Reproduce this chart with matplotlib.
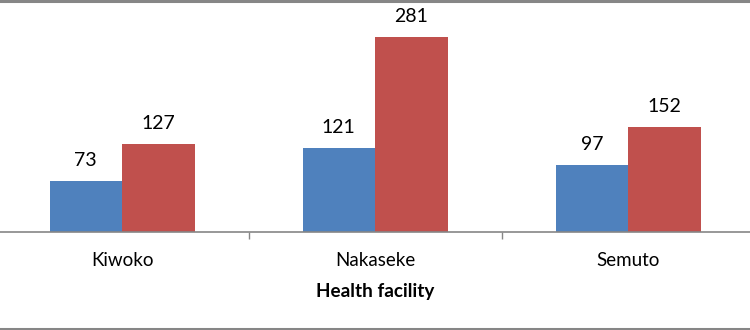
import matplotlib
matplotlib.use("Agg")
import matplotlib.pyplot as plt
from matplotlib.lines import Line2D

categories = ["Kiwoko", "Nakaseke", "Semuto"]
series_a = [73, 121, 97]
series_b = [127, 281, 152]

blue = "#4F81BD"
red = "#C0504D"
grey = "#868686"
font = ["Lato", "DejaVu Sans"]

W, H = 750, 330
fig = plt.figure(figsize=(W / 100, H / 100), dpi=100)
ax_bottom = (H - 232) / H
ax = fig.add_axes([0, ax_bottom, 1, 1 - ax_bottom])

bw = 72.5 / 253
x = list(range(len(categories)))
bars_a = ax.bar([i - bw / 2 for i in x], series_a, width=bw, color=blue)
bars_b = ax.bar([i + bw / 2 for i in x], series_b, width=bw, color=red)

for bars, vals in ((bars_a, series_a), (bars_b, series_b)):
    for b, v in zip(bars, vals):
        ax.annotate(str(v), (b.get_x() + b.get_width() / 2, v),
                    xytext=(0, 10.8), textcoords="offset points",
                    ha="center", va="baseline", fontsize=14,
                    family=font, color="#000000")

ax.set_xlim(-122 / 253, (750 - 122) / 253)
ax.set_ylim(0, 232 / (195 / 281))

for s in ("top", "left", "right"):
    ax.spines[s].set_visible(False)
ax.spines["bottom"].set_color(grey)
ax.spines["bottom"].set_linewidth(1.2)
ax.set_yticks([])
ax.set_xticks([0.5, 1.5], minor=False)
ax.set_xticklabels([])
ax.tick_params(axis="x", length=5, width=1, color=grey, direction="out")

for i, c in enumerate(categories):
    ax.annotate(c, (i, 0), xytext=(0, -(266 - 232) * 0.72), textcoords="offset points",
                ha="center", va="baseline", fontsize=13.5, family=font, color="#000000",
                annotation_clip=False)

fig.text(375 / W, 1 - 297 / H, "Health facility", ha="center", va="baseline",
         fontsize=13.6, fontweight="bold", family=font, color="#000000")

fig.add_artist(Line2D([0, 1], [1 - 0.8 / H, 1 - 0.8 / H], transform=fig.transFigure,
                      color=grey, linewidth=2.2))
fig.add_artist(Line2D([0, 1], [1 - 328.8 / H, 1 - 328.8 / H], transform=fig.transFigure,
                      color=grey, linewidth=2.2))

fig.savefig("out.png", dpi=100)
